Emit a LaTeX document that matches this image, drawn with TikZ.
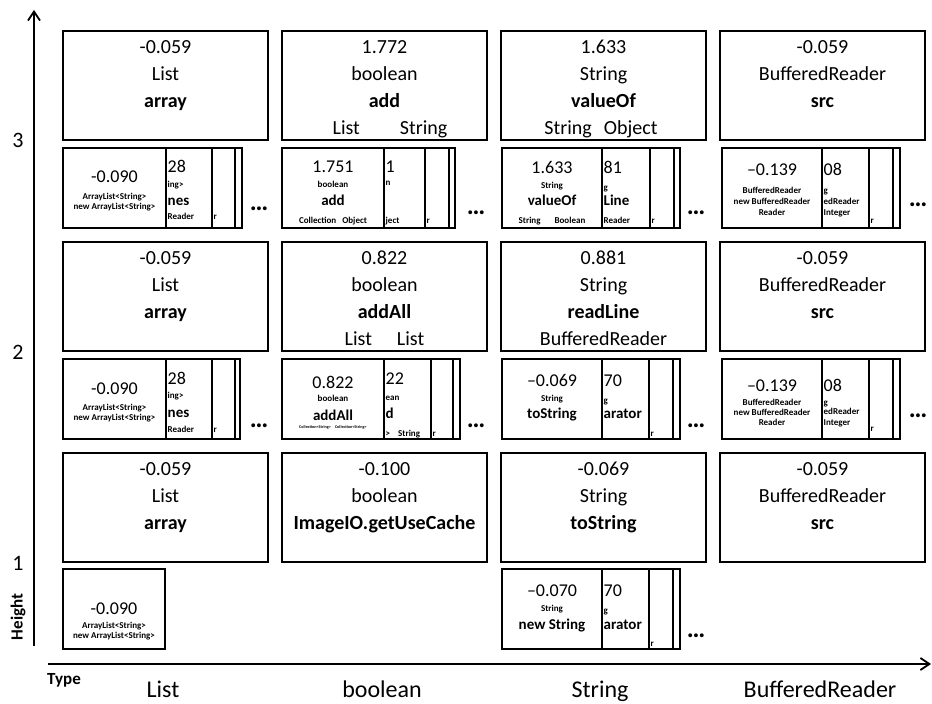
\documentclass[tikz,border=0pt]{standalone}
\usepackage{fontspec}
\setmainfont{Carlito}
\usetikzlibrary{arrows.meta}
\newcounter{nd}
\newcommand{\zT}[4][]{\stepcounter{nd}\node[inner sep=0pt,anchor=base,#1] (n\arabic{nd}) at (#2,#3) {#4};}
\newcommand{\zBig}{\fontsize{20bp}{24bp}\selectfont}
\newcommand{\zNum}{\fontsize{18bp}{20bp}\selectfont}
\newcommand{\zTiny}{\bfseries\fontsize{9bp}{10bp}\selectfont}
\newcommand{\zMeth}{\bfseries\fontsize{15bp}{17bp}\selectfont}
\newcommand{\zLab}{\fontsize{24bp}{28bp}\selectfont}
\newcommand{\zRow}{\fontsize{22bp}{26bp}\selectfont}
\newcommand{\zHead}{\bfseries\fontsize{17bp}{20bp}\selectfont}
\newcommand{\zDots}{\bfseries\fontsize{26bp}{28bp}\selectfont}
\newcommand{\zMicro}{\bfseries\fontsize{4.2bp}{5bp}\selectfont}
\tikzset{
  bx/.style={draw,line width=2bp,fill=white},
  ax/.style={line width=1.8bp,-{Straight Barb[length=9bp,width=12bp,line width=1.8bp]}},
  tw/.style={anchor=base west}
}
% big box: left, top, line1, line2, line3 (bold)
\newcommand{\zBigBox}[5]{%
  \draw[bx] (#1,#2) rectangle ++(205,109);
  \zT[font=\zBig]{#1+102.5}{#2+22.5}{#3}
  \zT[font=\zBig]{#1+102.5}{#2+49.5}{#4}
  \zT[font=\zBig\bfseries]{#1+102.5}{#2+76.5}{#5}}
% stack of cards: left, top, front right, card2 right, card3 right, card4 right
\newcommand{\zStack}[6]{%
  \draw[bx] (#1,#2) rectangle (#6,#2+80);
  \draw[bx] (#1,#2) rectangle (#5,#2+80);
  \draw[bx] (#1,#2) rectangle (#4,#2+80);
  \draw[bx] (#1,#2) rectangle (#3,#2+80);}
\begin{document}
\begin{tikzpicture}[x=1bp,y=-1bp]
\fill[white] (0,0) rectangle (932,704);
\useasboundingbox (0,0) rectangle (932,704);

% axes
\coordinate (vb) at (34,646);
\coordinate (vt) at (34,10);
\coordinate (hl) at (48,664);
\coordinate (hr) at (931,664);
\draw[ax] (vb) -- (vt);
\draw[ax] (hl) -- (hr);

% axis labels
\zT[font=\zRow,anchor=center]{18}{140}{3}
\zT[font=\zRow,anchor=center]{18}{352}{2}
\zT[font=\zRow,anchor=center]{18}{563}{1}
\zT[font=\zHead,anchor=center,rotate=90]{18}{617}{Height}
\zT[font=\zHead,tw]{47}{684}{Type}
\zT[font=\zLab]{163}{697}{List}
\zT[font=\zLab]{382}{697}{boolean}
\zT[font=\zLab]{600}{697}{String}
\zT[font=\zLab]{820}{697}{BufferedReader}

% ---------- row 3 ----------
\zBigBox{63}{31}{-0.059}{List}{array}
\zBigBox{282}{31}{1.772}{boolean}{add}
\zT[font=\zBig]{390}{134.5}{List\hspace{40bp}String}
\zBigBox{501}{31}{1.633}{String}{valueOf}
\zT[font=\zBig]{601}{134.5}{String\hspace{12bp}Object}
\zBigBox{720}{31}{-0.059}{BufferedReader}{src}

\zStack{63}{148}{166}{212}{235}{242}
\begin{scope}[shift={(63,148)}]
  \zT[font=\zNum]{51.5}{35}{-0.090}
  \zT[font=\zTiny]{51.5}{51}{ArrayList<String>}
  \zT[font=\zTiny]{51.5}{61}{new ArrayList<String>}
  \zT[font=\zNum,tw]{104.5}{25}{28}
  \zT[font=\zTiny,tw]{104.5}{39}{ing>}
  \zT[font=\zMeth,tw]{104.5}{57}{nes}
  \zT[font=\zTiny,tw]{104.5}{71}{Reader}
  \zT[font=\zTiny,tw]{150.5}{71}{r}
  \zT[font=\zDots]{196}{62}{…}
\end{scope}

\zStack{282}{148}{384}{425}{449}{455}
\begin{scope}[shift={(282,148)}]
  \zT[font=\zNum]{51}{25}{1.751}
  \zT[font=\zTiny]{51}{39}{boolean}
  \zT[font=\zMeth]{51}{57}{add}
  \zT[font=\zTiny]{51}{75}{Collection\hspace{6bp}Object}
  \zT[font=\zNum,tw]{103.5}{25}{1}
  \zT[font=\zTiny,tw]{103.5}{38}{n}
  \zT[font=\zTiny,tw]{103.5}{75}{ject}
  \zT[font=\zTiny,tw]{144.5}{75}{r}
  \zT[font=\zDots]{194}{66}{…}
\end{scope}

\zStack{502}{148}{602}{650}{674}{680}
\begin{scope}[shift={(502,148)}]
  \zT[font=\zNum]{50}{26}{1.633}
  \zT[font=\zTiny]{50}{40}{String}
  \zT[font=\zMeth]{50}{57}{valueOf}
  \zT[font=\zTiny]{50}{75}{String\hspace{14bp}Boolean}
  \zT[font=\zNum,tw]{101.5}{26}{81}
  \zT[font=\zTiny,tw]{101.5}{42}{g}
  \zT[font=\zMeth,tw]{101.5}{57}{Line}
  \zT[font=\zTiny,tw]{101.5}{75}{Reader}
  \zT[font=\zTiny,tw]{149.5}{75}{r}
  \zT[font=\zDots]{194}{66}{…}
\end{scope}

\zStack{722}{148}{822}{869}{893}{900}
\begin{scope}[shift={(722,148)}]
  \zT[font=\zNum]{50}{28}{–0.139}
  \zT[font=\zTiny]{50}{45}{BufferedReader}
  \zT[font=\zTiny]{50}{56}{new BufferedReader}
  \zT[font=\zTiny]{50}{67}{Reader}
  \zT[font=\zNum,tw]{101.5}{28}{08}
  \zT[font=\zTiny,tw]{101.5}{45}{g}
  \zT[font=\zTiny,tw]{101.5}{56}{edReader}
  \zT[font=\zTiny,tw]{101.5}{67}{Integer}
  \zT[font=\zTiny,tw]{148.5}{75}{r}
  \zT[font=\zDots]{196}{58}{…}
\end{scope}

% ---------- row 2 ----------
\zBigBox{63}{242}{-0.059}{List}{array}
\zBigBox{282}{242}{0.822}{boolean}{addAll}
\zT[font=\zBig]{384.5}{345.5}{List\hspace{25bp}List}
\zBigBox{501}{242}{0.881}{String}{readLine}
\zT[font=\zBig]{603.5}{345.5}{BufferedReader}
\zBigBox{720}{242}{-0.059}{BufferedReader}{src}

\zStack{63}{359}{166}{212}{235}{240}
\begin{scope}[shift={(63,359)}]
  \zT[font=\zNum]{51.5}{35}{-0.090}
  \zT[font=\zTiny]{51.5}{51}{ArrayList<String>}
  \zT[font=\zTiny]{51.5}{61}{new ArrayList<String>}
  \zT[font=\zNum,tw]{104.5}{25}{28}
  \zT[font=\zTiny,tw]{104.5}{39}{ing>}
  \zT[font=\zMeth,tw]{104.5}{58}{nes}
  \zT[font=\zTiny,tw]{104.5}{73}{Reader}
  \zT[font=\zTiny,tw]{150.5}{73}{r}
  \zT[font=\zDots]{196}{68}{…}
\end{scope}

\zStack{282}{359}{384}{431}{453}{460}
\begin{scope}[shift={(282,359)}]
  \zT[font=\zNum]{51}{29}{0.822}
  \zT[font=\zTiny]{51}{42}{boolean}
  \zT[font=\zMeth]{51}{61}{addAll}
  \zT[font=\zMicro]{51}{69}{Collection<String>\hspace{4bp}Collection<String>}
  \zT[font=\zNum,tw]{103.5}{25}{22}
  \zT[font=\zTiny,tw]{103.5}{41}{ean}
  \zT[font=\zMeth,tw]{103.5}{59}{d}
  \zT[font=\zTiny,tw]{103.5}{77}{>\hspace{8bp}String}
  \zT[font=\zTiny,tw]{150.5}{77}{r}
  \zT[font=\zDots]{194}{68}{…}
\end{scope}

\zStack{502}{359}{602}{649}{673}{680}
\begin{scope}[shift={(502,359)}]
  \zT[font=\zNum]{50}{27}{–0.069}
  \zT[font=\zTiny]{50}{42}{String}
  \zT[font=\zMeth]{50}{59}{toString}
  \zT[font=\zNum,tw]{101.5}{27}{70}
  \zT[font=\zTiny,tw]{101.5}{44}{g}
  \zT[font=\zMeth,tw]{101.5}{59}{arator}
  \zT[font=\zTiny,tw]{148.5}{77}{r}
  \zT[font=\zDots]{194}{68}{…}
\end{scope}

\zStack{722}{359}{822}{869}{893}{900}
\begin{scope}[shift={(722,359)}]
  \zT[font=\zNum]{50}{32}{–0.139}
  \zT[font=\zTiny]{50}{46}{BufferedReader}
  \zT[font=\zTiny]{50}{56}{new BufferedReader}
  \zT[font=\zTiny]{50}{66}{Reader}
  \zT[font=\zNum,tw]{101.5}{32}{08}
  \zT[font=\zTiny,tw]{101.5}{46}{g}
  \zT[font=\zTiny,tw]{101.5}{55}{edReader}
  \zT[font=\zTiny,tw]{101.5}{66}{Integer}
  \zT[font=\zTiny,tw]{148.5}{72}{r}
  \zT[font=\zDots]{196}{58}{…}
\end{scope}

% ---------- row 1 ----------
\zBigBox{63}{453}{-0.059}{List}{array}
\zBigBox{282}{453}{-0.100}{boolean}{ImageIO.getUseCache}
\zBigBox{501}{453}{-0.069}{String}{toString}
\zBigBox{720}{453}{-0.059}{BufferedReader}{src}

\draw[bx] (63,569) rectangle (165,649);
\begin{scope}[shift={(63,569)}]
  \zT[font=\zNum]{51}{45}{-0.090}
  \zT[font=\zTiny]{51}{59}{ArrayList<String>}
  \zT[font=\zTiny]{51}{69}{new ArrayList<String>}
\end{scope}

\zStack{502}{569}{602}{649}{673}{680}
\begin{scope}[shift={(502,569)}]
  \zT[font=\zNum]{50}{27}{–0.070}
  \zT[font=\zTiny]{50}{42}{String}
  \zT[font=\zMeth]{50}{60}{new String}
  \zT[font=\zNum,tw]{101.5}{27}{70}
  \zT[font=\zTiny,tw]{101.5}{44}{g}
  \zT[font=\zMeth,tw]{101.5}{60}{arator}
  \zT[font=\zTiny,tw]{148.5}{77}{r}
  \zT[font=\zDots]{194}{68}{…}
\end{scope}
\end{tikzpicture}
\end{document}
